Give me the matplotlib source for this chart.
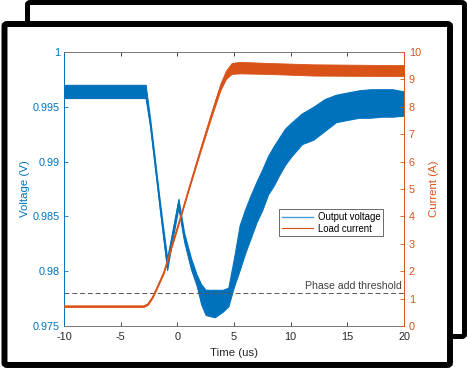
import matplotlib
matplotlib.use("Agg")
import matplotlib.pyplot as plt
from matplotlib.patches import FancyBboxPatch
from matplotlib.lines import Line2D

plt.rcParams['font.family'] = ['Liberation Sans', 'DejaVu Sans']

# ---- data ----
t_v = [-10, -2.8, -2.4, -2.0, -1.5, -0.9, -0.5, 0.1, 0.6, 1.2, 1.7, 2.1, 2.5, 3.3, 4.0,
       4.5, 5.0, 5.5, 6.0, 6.5, 7.0, 7.5, 8.0, 8.5, 9.0, 9.5, 10, 11, 12, 13, 14, 15,
       16, 17, 18, 19, 20]
v_hi = [0.9970, 0.9970, 0.9939, 0.9904, 0.9860, 0.9812, 0.9833, 0.9866, 0.9835, 0.9812,
        0.9797, 0.9788, 0.9783, 0.9783, 0.9783, 0.9785, 0.9812, 0.9842, 0.9857, 0.9870,
        0.9882, 0.9893, 0.9905, 0.9914, 0.9922, 0.9930, 0.9935, 0.9944, 0.9950, 0.9957,
        0.9961, 0.9963, 0.9965, 0.9966, 0.9966, 0.9966, 0.9964]
v_lo = [0.9958, 0.9958, 0.9932, 0.9897, 0.9853, 0.9801, 0.9825, 0.9858, 0.9827, 0.9802,
        0.9787, 0.9770, 0.9760, 0.9758, 0.9763, 0.9768, 0.9786, 0.9801, 0.9817, 0.9831,
        0.9845, 0.9856, 0.9870, 0.9878, 0.9888, 0.9897, 0.9904, 0.9916, 0.9920, 0.9928,
        0.9936, 0.9938, 0.9940, 0.9940, 0.9941, 0.9941, 0.9942]

t_i = [-10, -3, -2.6, -2.2, -1.8, -1.2, 0, 1, 2, 3, 3.8, 4.3, 4.8, 5.5, 8, 12, 20]
i_lo = [0.69, 0.69, 0.77, 1.02, 1.37, 1.92, 3.56, 4.96, 6.31, 7.62, 8.60, 9.02, 9.20,
        9.22, 9.20, 9.14, 9.12]
i_hi = [0.75, 0.75, 0.83, 1.08, 1.43, 2.00, 3.64, 5.04, 6.44, 7.80, 8.85, 9.33, 9.60,
        9.64, 9.60, 9.55, 9.52]

threshold_v = 0.978
threshold_label = "Phase add threshold"
x_ticks = [-10, -5, 0, 5, 10, 15, 20]
v_ticks = [0.975, 0.98, 0.985, 0.99, 0.995, 1.0]
v_tick_labels = ["0.975", "0.98", "0.985", "0.99", "0.995", "1"]
i_ticks = list(range(0, 11))

BLUE = '#0072BD'
ORANGE = '#D95319'
GRAY = '#262626'

fig = plt.figure(figsize=(4.67, 3.68), dpi=100)

# decorative frames
back = FancyBboxPatch((0.0589, 0.0856), 0.9946 - 0.0589, 0.9932 - 0.0856,
                      boxstyle="round,pad=0,rounding_size=0.006",
                      transform=fig.transFigure, facecolor='white', edgecolor='black',
                      linewidth=3.6, zorder=-3)
front = FancyBboxPatch((0.0096, 0.0082), 0.9636 - 0.0096, 0.9348 - 0.0082,
                       boxstyle="round,pad=0,rounding_size=0.006",
                       transform=fig.transFigure, facecolor='white', edgecolor='black',
                       linewidth=4.3, zorder=-2)
fig.patches.extend([back, front])

ax = fig.add_axes([0.13705, 0.11413, 0.72805, 0.74457])
ax.set_facecolor('none')
ax2 = ax.twinx()

v_mid = [(a + b) / 2 for a, b in zip(v_lo, v_hi)]
i_mid = [(a + b) / 2 for a, b in zip(i_lo, i_hi)]

ax.fill_between(t_v, v_lo, v_hi, color=BLUE, linewidth=0.8)
lv, = ax.plot(t_v, v_mid, color=BLUE, linewidth=0.8)
ax.axhline(threshold_v, color='#555555', linewidth=0.7, dashes=(5, 3))
ax.text(19.8, threshold_v + 0.0002, threshold_label, ha='right', va='bottom',
        fontsize=7.6, color='#404040')

ax2.fill_between(t_i, i_lo, i_hi, color=ORANGE, linewidth=0.6)
li, = ax2.plot(t_i, i_mid, color=ORANGE, linewidth=0.8)

ax.set_xlim(-10, 20)
ax.set_ylim(0.975, 1.0)
ax2.set_ylim(0, 10)
ax.set_xticks(x_ticks)
ax.set_xticklabels([str(x) for x in x_ticks])
ax.set_yticks(v_ticks)
ax.set_yticklabels(v_tick_labels)
ax2.set_yticks(i_ticks)

ax.tick_params(axis='x', direction='in', top=True, length=3, width=0.6,
               color=GRAY, labelcolor=GRAY, labelsize=7.8, pad=4)
ax.tick_params(axis='y', direction='in', length=3, width=0.6, colors=BLUE,
               labelsize=7.8, pad=3)
ax2.tick_params(axis='y', direction='in', length=3, width=0.6, colors=ORANGE,
                labelsize=7.8, pad=3.5)

for s in ['top', 'bottom']:
    ax.spines[s].set_color('#777777')
    ax.spines[s].set_linewidth(0.7)
ax.spines['left'].set_color(BLUE)
ax.spines['left'].set_linewidth(0.7)
ax.spines['right'].set_visible(False)
for s in ['top', 'bottom', 'left']:
    ax2.spines[s].set_visible(False)
ax2.spines['right'].set_color(ORANGE)
ax2.spines['right'].set_linewidth(0.7)

ax.set_xlabel("Time (us)", fontsize=8.2, color=GRAY, labelpad=4.5)
ax.set_ylabel("Voltage (V)", fontsize=8.2, color=BLUE, labelpad=2)
ax2.set_ylabel("Current (A)", fontsize=8.2, color=ORANGE, labelpad=6)

h1 = Line2D([], [], color='#4a9ad6', linewidth=1.0)
h2 = Line2D([], [], color=ORANGE, linewidth=0.8)
leg = ax2.legend([h1, h2], ["Output voltage", "Load current"], loc='upper left',
                 bbox_to_anchor=(0.633, 0.426), fontsize=6.9, frameon=True,
                 fancybox=False, edgecolor='#262626', handlelength=3.2,
                 borderpad=0.3, labelspacing=0.15, handletextpad=0.5,
                 borderaxespad=0)
leg.get_frame().set_linewidth(0.6)

fig.savefig("out.png", dpi=100)
